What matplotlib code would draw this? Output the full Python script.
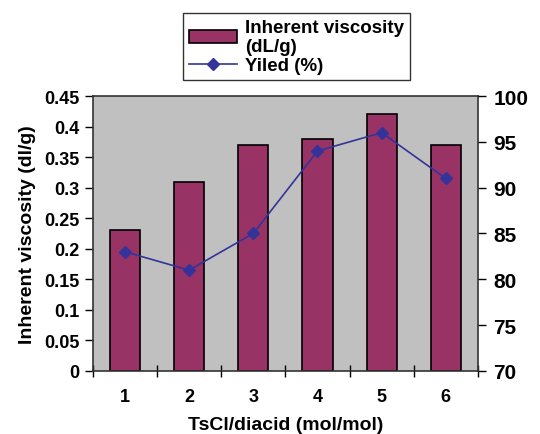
import matplotlib
matplotlib.use("Agg")
import matplotlib.pyplot as plt
import numpy as np

plt.rcParams['font.family'] = ['Liberation Sans', 'DejaVu Sans']
plt.rcParams['font.weight'] = 'bold'

categories = ['1', '2', '3', '4', '5', '6']
viscosity = [0.23, 0.31, 0.37, 0.38, 0.42, 0.37]
yield_pct = [83, 81, 85, 94, 96, 91]
left_ticks = [0, 0.05, 0.1, 0.15, 0.2, 0.25, 0.3, 0.35, 0.4, 0.45]
left_labels = ['0', '0.05', '0.1', '0.15', '0.2', '0.25', '0.3', '0.35', '0.4', '0.45']
right_ticks = [70, 75, 80, 85, 90, 95, 100]

fig = plt.figure(figsize=(5.4, 4.35), dpi=100)
ax = fig.add_axes([0.172, 0.145, 0.713, 0.632])
ax.set_facecolor('#C0C0C0')
x = np.arange(1, len(categories) + 1)
bars = ax.bar(x, viscosity, width=0.47, color='#993366', edgecolor='black', linewidth=1.2,
              label='Inherent viscosity\n(dL/g)', zorder=2)
ax.set_xlim(0.5, 6.5)
ax.set_ylim(0, 0.45)
ax.set_yticks(left_ticks)
ax.set_yticklabels(left_labels)
ax.set_xticks(np.arange(0.5, 7, 1))
ax.set_xticklabels([])
ax.set_xticks(x, minor=True)
ax.set_xticklabels(categories, minor=True)
ax.tick_params(axis='x', which='major', direction='inout', length=8, width=1)
ax.tick_params(axis='x', which='minor', length=0, pad=12, labelsize=13)
ax.tick_params(axis='y', direction='out', length=6, width=1, labelsize=13)
for s in ax.spines.values():
    s.set_linewidth(1.2)
    s.set_color('#333333')
ax.set_xlabel('TsCl/diacid (mol/mol)', fontsize=14, fontweight='bold', labelpad=8)
ax.set_ylabel('Inherent viscosity (dl/g)', fontsize=14, fontweight='bold', labelpad=6)

ax2 = ax.twinx()
line, = ax2.plot(x, yield_pct, color='#333399', marker='D', markersize=6, linewidth=1.2,
                 label='Yiled (%)')
ax2.set_ylim(70, 100)
ax2.set_yticks(right_ticks)
ax2.tick_params(axis='y', direction='out', length=6, width=1, labelsize=15, pad=5)
for s in ax2.spines.values():
    s.set_visible(False)

leg = fig.legend([bars, line], ['Inherent viscosity\n(dL/g)', 'Yiled (%)'],
                 loc='upper left', bbox_to_anchor=(183/540, 1 - 14/435), borderaxespad=0,
                 frameon=True, fancybox=False, edgecolor='black', fontsize=13.5,
                 handlelength=2.6, borderpad=0.3, labelspacing=0.1, handletextpad=0.4)
leg.get_frame().set_linewidth(1.0)
for t in leg.get_texts():
    t.set_fontweight('bold')

fig.savefig('out.png', dpi=100)
